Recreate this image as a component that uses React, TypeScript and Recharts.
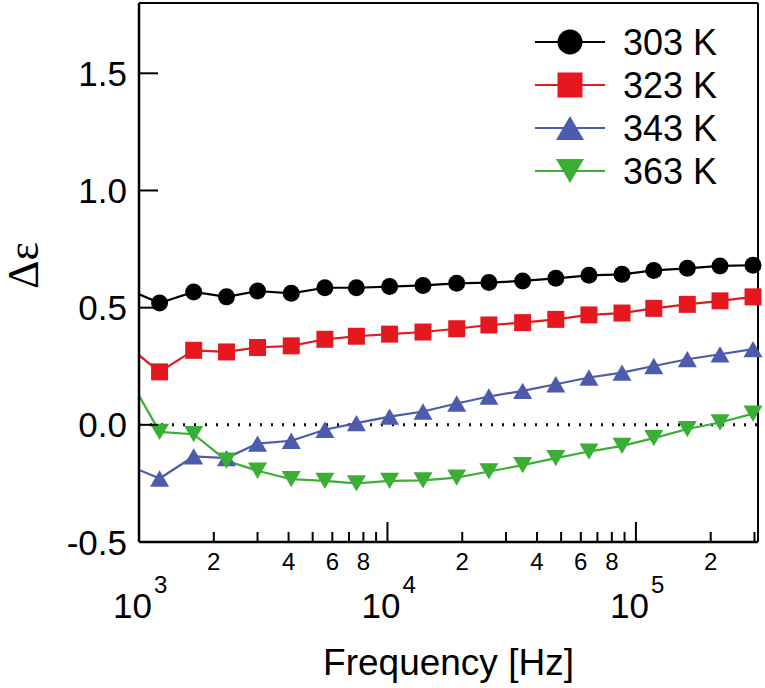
import React from "react";
import { LineChart, Line, XAxis, YAxis, ReferenceLine, Legend } from "recharts";

// frequency [Hz]; the first point lies just left of 10^3 and is clipped
const freq = [890, 1210, 1660, 2250, 3000, 4100, 5600, 7500, 10200, 13900, 19000, 25600, 35000, 47600, 64700, 87900, 118000, 161000, 218000, 296000];
const k303 = [0.58, 0.52, 0.567, 0.546, 0.571, 0.561, 0.585, 0.585, 0.59, 0.595, 0.604, 0.607, 0.614, 0.625, 0.638, 0.642, 0.659, 0.668, 0.678, 0.681];
const k323 = [0.34, 0.226, 0.318, 0.311, 0.33, 0.337, 0.365, 0.378, 0.387, 0.396, 0.41, 0.426, 0.436, 0.45, 0.469, 0.477, 0.497, 0.514, 0.529, 0.546];
const k343 = [-0.17, -0.229, -0.135, -0.142, -0.08, -0.068, -0.021, 0.007, 0.035, 0.057, 0.091, 0.121, 0.145, 0.173, 0.202, 0.223, 0.251, 0.28, 0.301, 0.323];
const k363 = [0.22, -0.03, -0.04, -0.153, -0.196, -0.232, -0.239, -0.25, -0.239, -0.237, -0.225, -0.199, -0.172, -0.142, -0.114, -0.09, -0.057, -0.018, 0.01, 0.048];

const xTicks = [1000, 2000, 3000, 4000, 5000, 6000, 7000, 8000, 9000, 10000, 20000, 30000, 40000, 50000, 60000, 70000, 80000, 90000, 100000, 200000, 300000];
const yTicks = [-0.5, 0, 0.5, 1.0, 1.5];

const series = [
  { key: "k303", name: "303 K", color: "#000000", shape: "circle" },
  { key: "k323", name: "323 K", color: "#e5171f", shape: "square" },
  { key: "k343", name: "343 K", color: "#4c5bab", shape: "up" },
  { key: "k363", name: "363 K", color: "#3bae36", shape: "down" },
];

const rows = freq.map((f, i) => ({ freq: f, k303: k303[i], k323: k323[i], k343: k343[i], k363: k363[i] }));
const leadRows = rows.slice(0, 2);
const mainRows = rows.slice(1);

const FONT = "'Liberation Sans', Arial, sans-serif";

function Marker({ cx, cy, shape, color, s }) {
  if (cx == null || cy == null) return null;
  if (shape === "circle") return <circle cx={cx} cy={cy} r={s / 2} fill={color} />;
  if (shape === "square") return <rect x={cx - s / 2} y={cy - s / 2} width={s} height={s} fill={color} />;
  const w = s * 0.56;
  const h = s * 0.48;
  if (shape === "up")
    return <polygon points={`${cx},${cy - h} ${cx - w},${cy + h} ${cx + w},${cy + h}`} fill={color} />;
  return <polygon points={`${cx - w},${cy - h} ${cx + w},${cy - h} ${cx},${cy + h}`} fill={color} />;
}

function XTick({ x, y, payload }) {
  const v = payload.value;
  const exp = Math.round(Math.log10(v));
  const major = Math.abs(v - Math.pow(10, exp)) < 1e-6;
  const mant = Math.round(v / Math.pow(10, Math.floor(Math.log10(v) + 1e-9)));
  return (
    <g>
      <line x1={x} x2={x} y1={y} y2={y - (major ? 20 : 10)} stroke="#000" strokeWidth={2} />
      {major ? (
        <g fontFamily={FONT} fill="#000">
          <text x={x + 13} y={y + 76} fontSize={35} textAnchor="end">10</text>
          <text x={x + 15} y={y + 51} fontSize={24} textAnchor="start">{exp}</text>
        </g>
      ) : [2, 4, 6, 8].includes(mant) ? (
        <text x={x} y={y + 28} fontSize={24} textAnchor="middle" fontFamily={FONT} fill="#000">{mant}</text>
      ) : null}
    </g>
  );
}

function YTick({ x, y, payload }) {
  return (
    <g>
      <line x1={x} x2={x + 19} y1={y} y2={y} stroke="#000" strokeWidth={2} />
      <text x={x - 12} y={y + 12.5} fontSize={35} textAnchor="end" fontFamily={FONT} fill="#000">
        {payload.value.toFixed(1)}
      </text>
    </g>
  );
}

function LegendBox() {
  return (
    <svg width={235} height={200}>
      {series.map((s, i) => {
        const cy = 42 + 43 * i;
        return (
          <g key={s.key}>
            <line x1={5} x2={75} y1={cy} y2={cy} stroke={s.color} strokeWidth={2.2} />
            <Marker cx={40} cy={cy} shape={s.shape} color={s.color} s={25} />
            <text x={93} y={cy + 13} fontSize={36} fontFamily={FONT} fill="#000">{s.name}</text>
          </g>
        );
      })}
    </svg>
  );
}

export default function App() {
  return (
    <div style={{ position: "absolute", left: 0, top: 0, background: "#fff" }}>
      <LineChart width={765} height={688} margin={{ top: 3, right: 7, bottom: 0, left: 0 }}>
        <XAxis
          dataKey="freq"
          type="number"
          scale="log"
          domain={[1000, 310000]}
          ticks={xTicks}
          interval={0}
          tickSize={0}
          tickMargin={0}
          tickLine={false}
          tick={<XTick />}
          axisLine={{ stroke: "#000", strokeWidth: 2.5 }}
          height={146}
          label={{ value: "Frequency [Hz]", position: "insideBottom", offset: 13, fontSize: 37, fill: "#000", fontFamily: FONT }}
        />
        <XAxis xAxisId="lead" dataKey="freq" type="number" scale="log" domain={[1000, 310000]} allowDataOverflow hide />
        <YAxis
          type="number"
          domain={[-0.5, 1.8]}
          ticks={yTicks}
          interval={0}
          tickSize={0}
          tickMargin={0}
          tickLine={false}
          tick={<YTick />}
          axisLine={{ stroke: "#000", strokeWidth: 2.5 }}
          width={139}
          label={({ viewBox }) => (
            <text
              x={viewBox.x + 38}
              y={viewBox.y + viewBox.height / 2 - 7}
              transform={`rotate(-90 ${viewBox.x + 38} ${viewBox.y + viewBox.height / 2 - 7})`}
              textAnchor="middle"
              fontSize={44}
              fontFamily="'Liberation Serif', 'Times New Roman', serif"
              fill="#000"
            >
              Δε
            </text>
          )}
        />
        <ReferenceLine y={1.8} stroke="#000" strokeWidth={2} />
        <ReferenceLine x={310000} stroke="#000" strokeWidth={2} />
        <ReferenceLine y={0} stroke="#000" strokeWidth={3} strokeDasharray="2 9" />
        {series.map((s) => (
          <Line
            key={s.key + "-lead"}
            xAxisId="lead"
            data={leadRows}
            dataKey={s.key}
            stroke={s.color}
            strokeWidth={2.2}
            dot={false}
            activeDot={false}
            legendType="none"
            isAnimationActive={false}
          />
        ))}
        {series.map((s) => (
          <Line
            key={s.key}
            data={mainRows}
            dataKey={s.key}
            name={s.name}
            stroke={s.color}
            strokeWidth={2.2}
            dot={(p) => <Marker key={p.index} cx={p.cx} cy={p.cy} shape={s.shape} color={s.color} s={17} />}
            activeDot={false}
            isAnimationActive={false}
          />
        ))}
        <Legend
          layout="vertical"
          align="center"
          verticalAlign="middle"
          content={() => <LegendBox />}
          wrapperStyle={{ top: 0, left: 530, width: 235, height: 200 }}
        />
      </LineChart>
    </div>
  );
}
